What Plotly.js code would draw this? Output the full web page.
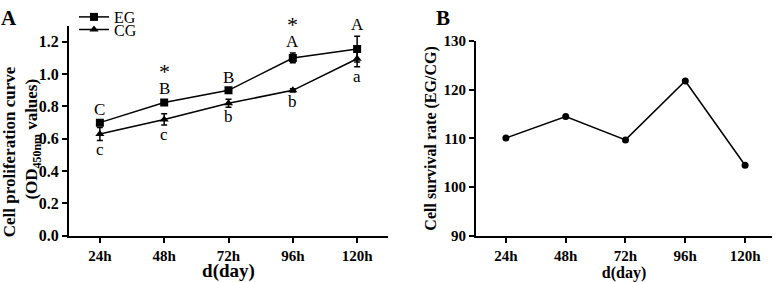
<!DOCTYPE html>
<html><head><meta charset="utf-8">
<script src="https://cdn.plot.ly/plotly-3.0.1.min.js"></script>
<style>html,body{margin:0;padding:0;background:#fff}#plot{width:777px;height:282px}</style>
</head><body><div id="plot"></div>
<script>
const days = ['24h','48h','72h','96h','120h'];
const egValues = [0.70, 0.825, 0.90, 1.10, 1.155];
const egErrors = [0.012, 0.012, 0.01, 0.03, 0.08];
const cgValues = [0.63, 0.72, 0.82, 0.90, 1.095];
const cgErrors = [0.04, 0.035, 0.025, 0.01, 0.05];
const egLetters = ['C','B','B','A','A'];
const cgLetters = ['c','c','b','b','a'];
const starMarks = ['', '*', '', '*', ''];
const survivalRate = [110.1, 114.5, 109.7, 121.8, 104.5];
const yTicksA = [0, 0.2, 0.4, 0.6, 0.8, 1.0, 1.2];
const yTicksB = [90, 100, 110, 120, 130];

const idx = days.map((d,i)=>i);
const serif = "'Liberation Serif', 'Times New Roman', serif";
const black = '#000';
const nb = n => '&nbsp;'.repeat(n);

const traces = [
  {x: idx, y: egValues, name: 'EG', type: 'scatter', mode: 'lines+markers', legend: 'legend',
   line: {color: black, width: 1.5}, marker: {symbol: 'square', size: 8, color: black},
   error_y: {type: 'data', array: egErrors, visible: true, color: black, thickness: 1.5, width: 3},
   xaxis: 'x', yaxis: 'y'},
  {x: idx, y: cgValues, name: 'CG', type: 'scatter', mode: 'lines+markers', legend: 'legend2',
   line: {color: black, width: 1.5}, marker: {symbol: 'triangle-up', size: 8, color: black},
   error_y: {type: 'data', array: cgErrors, visible: true, color: black, thickness: 1.5, width: 3},
   xaxis: 'x', yaxis: 'y'},
  {x: idx, y: survivalRate, name: 'rate', type: 'scatter', mode: 'lines+markers', showlegend: false,
   line: {color: black, width: 1.5}, marker: {symbol: 'circle', size: 7, color: black},
   xaxis: 'x2', yaxis: 'y2'}
];

const letterFont = {family: serif, size: 17, color: black};
const annotations = [];
idx.forEach(i => {
  annotations.push({x: i, y: egValues[i] + egErrors[i], xref: 'x', yref: 'y', text: egLetters[i],
    showarrow: false, yanchor: 'bottom', yshift: 0, font: letterFont});
  annotations.push({x: i, y: cgValues[i] - cgErrors[i], xref: 'x', yref: 'y', text: cgLetters[i],
    showarrow: false, yanchor: 'top', yshift: 2, font: letterFont});
  if (starMarks[i]) annotations.push({x: i, y: egValues[i] + egErrors[i], xref: 'x', yref: 'y', text: starMarks[i],
    showarrow: false, yanchor: 'bottom', yshift: 14, font: {family: serif, size: 22, color: black}});
});
annotations.push({x: -1/777, y: 1.005, xref: 'paper', yref: 'paper', xanchor: 'left', yanchor: 'top', text: 'A',
  showarrow: false, font: {family: serif, size: 21, color: black, weight: 'bold'}});
annotations.push({x: 434/777, y: 1.005, xref: 'paper', yref: 'paper', xanchor: 'left', yanchor: 'top', text: 'B',
  showarrow: false, font: {family: serif, size: 21, color: black, weight: 'bold'}});

function axis(extra, tickSize) {
  return Object.assign({showline: true, linecolor: black, linewidth: 2, ticks: 'outside', ticklen: 5, tickwidth: 2,
    tickcolor: black, showgrid: false, zeroline: false, fixedrange: true,
    tickfont: {family: serif, size: tickSize, color: black, weight: 'bold'}}, extra);
}

const legendCommon = {xanchor: 'left', yanchor: 'middle', bgcolor: 'rgba(0,0,0,0)', borderwidth: 0,
  font: {family: serif, size: 16, color: black}, itemwidth: 30};

const layout = {
  width: 777, height: 282, margin: {l: 0, r: 0, t: 0, b: 0},
  paper_bgcolor: '#fff', plot_bgcolor: '#fff',
  showlegend: true,
  legend: Object.assign({}, legendCommon, {x: 74/777, y: (282-12)/282}),
  legend2: Object.assign({}, legendCommon, {x: 74/777, y: (282-25)/282}),
  xaxis: axis({domain: [69/777, 388/777], range: [-0.48, 4.48], tickvals: idx, ticktext: days,
    title: {text: 'd(day)', standoff: 13, font: {family: serif, size: 19, color: black, weight: 'bold'}}}, 15),
  yaxis: axis({domain: [47/282, 261/282], range: [0, 1.3], tickvals: yTicksA, tickformat: '.1f',
    title: {text: 'Cell proliferation curve' + nb(10) + '<br>(OD<sub>450nm</sub> values)' + nb(4), standoff: 2,
      font: {family: serif, size: 17, color: black, weight: 'bold'}}}, 16),
  xaxis2: axis({domain: [476/777, 772/777], range: [-0.5, 4.45], anchor: 'y2', tickvals: idx, ticktext: days,
    title: {text: 'd(day)', standoff: 8, font: {family: serif, size: 16, color: black, weight: 'bold'}}}, 15),
  yaxis2: axis({domain: [47/282, 245.3/282], range: [90, 130], anchor: 'x2', tickvals: yTicksB,
    title: {text: 'Cell survival rate (EG/CG)', standoff: 3,
      font: {family: serif, size: 16, color: black, weight: 'bold'}}}, 15),
  annotations: annotations
};

Plotly.newPlot('plot', traces, layout, {displayModeBar: false, staticPlot: true});
</script></body></html>
